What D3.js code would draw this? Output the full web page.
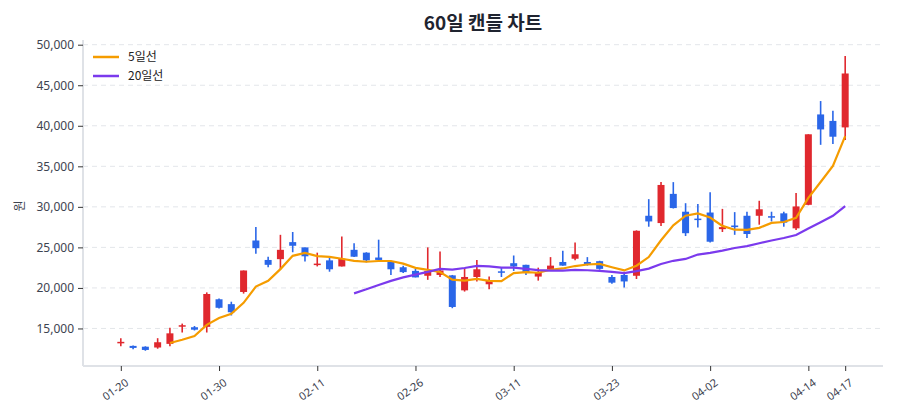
<!DOCTYPE html>
<html><head><meta charset="utf-8">
<script src="https://cdn.jsdelivr.net/npm/d3@7/dist/d3.min.js"></script>
<style>
body{margin:0;background:#fff;}
svg{font-family:"Noto Sans CJK KR","Noto Sans",sans-serif;}
</style></head><body>
<svg id="c" width="900" height="420"></svg>
<script>
const dates = ["01-20","01-21","01-22","01-23","01-26","01-27","01-28","01-29","01-30",
"02-02","02-03","02-04","02-05","02-06","02-09","02-10","02-11",
"02-12","02-13","02-19","02-20","02-23","02-24","02-25","02-26",
"02-27","03-03","03-04","03-05","03-06","03-09","03-10","03-11",
"03-12","03-13","03-16","03-17","03-18","03-19","03-20","03-23",
"03-24","03-25","03-26","03-27","03-30","03-31","04-01","04-02",
"04-03","04-06","04-07","04-08","04-09","04-10","04-13","04-14",
"04-15","04-16","04-17"];
const opens  = [13250,12850,12750,12650,13100,15250,15150,15200,18600,18000,19500,25850,23450,23550,25650,25000,22900,23400,22650,24700,24350,23750,23200,22550,22100,21500,21600,21550,19700,21350,20450,22050,23050,22850,21400,22300,23200,23600,23200,23300,21350,21600,21500,28900,28000,31600,29400,28550,29300,27250,27700,28900,28900,28850,29200,27350,30250,41400,40600,39800];
const highs  = [13800,12900,12800,13800,15100,15600,15300,19450,18700,18300,22150,27500,23850,26550,26900,25000,24350,23700,26350,25500,24400,25950,23200,22750,22350,25000,24500,21600,22450,23450,21400,22450,24000,22850,22500,23800,24600,25600,23800,23350,21600,22000,27100,30950,33050,33050,30450,30350,31800,29750,29350,29400,30750,29400,29400,31700,38950,43050,41850,48600];
const lows   = [12800,12450,12250,12500,12800,14500,14750,14500,17450,16600,19300,24200,22550,22300,24400,23250,22650,22000,22650,23800,23150,23450,21600,21850,21300,21000,21350,17500,19550,20800,19850,21350,22100,21600,20900,22300,22750,23400,22750,22250,20500,20050,21100,27550,27650,29800,26400,27450,25600,26900,26550,26150,27800,28200,27550,27150,30200,37650,37750,38250];
const closes = [13350,12600,12350,13300,14400,15400,14850,19250,17550,17000,22150,24900,22850,24700,25200,23900,23000,22300,23600,23850,23400,23450,22300,21950,21300,22100,22150,17650,21350,22300,20900,21950,22650,21900,21950,22750,22750,24150,22850,22350,20650,20800,27050,28200,32700,29850,26750,28450,25700,27500,27500,26650,29700,28750,28050,30050,38950,39550,38650,46450];
const tickIdx = [0,8,16,24,32,40,48,56,59];
const yTicks = [15000,20000,25000,30000,35000,40000,45000,50000];
const series = [{name:"5일선", n:5, color:"#f59c00"},{name:"20일선", n:20, color:"#7b3aed"}];
const upColor = "#e0282e", downColor = "#2a66e8";

const svg = d3.select("#c");
const L=83, R=883, T=40, B=366;
const x = d3.scaleLinear().domain([-3.08, 62.08]).range([L, R]);
const y = d3.scaleLinear().domain([10370, 50580]).range([B, T]);

// grid
svg.append("g").selectAll("line").data(yTicks).join("line")
  .attr("x1",L).attr("x2",R).attr("y1",d=>y(d)).attr("y2",d=>y(d))
  .attr("stroke","#e3e6ea").attr("stroke-dasharray","5,4").attr("stroke-width",1);

// axes
const yAxis = svg.append("g").attr("transform",`translate(${L},0)`)
  .call(d3.axisLeft(y).tickValues(yTicks).tickFormat(d3.format(",")).tickSize(5).tickPadding(4));
yAxis.select(".domain").attr("stroke","#dfe2e7").attr("stroke-width",2).attr("d",`M0,${T}V${B}`);
yAxis.selectAll(".tick line").attr("stroke","#333");
yAxis.selectAll("text").attr("fill","#3d4350").attr("font-size",12).attr("font-family","Noto Sans, sans-serif");

const xAxis = svg.append("g").attr("transform",`translate(0,${B})`)
  .call(d3.axisBottom(x).tickValues(tickIdx).tickFormat(i=>dates[i]).tickSize(5).tickPadding(6));
xAxis.select(".domain").attr("stroke","#dfe2e7").attr("stroke-width",2).attr("d",`M${L},0H${R}`);
xAxis.selectAll(".tick line").attr("stroke","#333");
xAxis.selectAll("text").attr("fill","#3d4350").attr("font-size",11).attr("font-family","Noto Sans, sans-serif")
  .attr("text-anchor","end").attr("transform","translate(-2,4) rotate(-35)").attr("dy","0.6em");

// candles
const idx = d3.range(dates.length);
const g = svg.append("g");
g.selectAll("line.w").data(idx).join("line")
  .attr("x1",i=>x(i)).attr("x2",i=>x(i)).attr("y1",i=>y(highs[i])).attr("y2",i=>y(lows[i]))
  .attr("stroke",i=>closes[i]>=opens[i]?upColor:downColor).attr("stroke-width",1.6);
g.selectAll("rect").data(idx).join("rect")
  .attr("x",i=>x(i)-3.5).attr("width",7)
  .attr("y",i=>y(Math.max(opens[i],closes[i])))
  .attr("height",i=>Math.max(1.5, Math.abs(y(opens[i])-y(closes[i]))))
  .attr("fill",i=>closes[i]>=opens[i]?upColor:downColor);

// moving averages
series.forEach(s=>{
  const pts = idx.filter(i=>i>=s.n-1).map(i=>[i, d3.mean(closes.slice(i-s.n+1,i+1))]);
  svg.append("path").datum(pts)
    .attr("d", d3.line().x(d=>x(d[0])).y(d=>y(d[1])))
    .attr("fill","none").attr("stroke",s.color).attr("stroke-width",2.2);
});

// legend
series.forEach((s,k)=>{
  const ly = 57 + k*19;
  svg.append("line").attr("x1",93).attr("x2",119).attr("y1",ly).attr("y2",ly)
    .attr("stroke",s.color).attr("stroke-width",2.5);
  svg.append("text").attr("x",128).attr("y",ly).attr("dy","0.35em")
    .attr("font-size",12).attr("fill","#222").text(s.name);
});

// title
svg.append("text").attr("x",483).attr("y",23).attr("text-anchor","middle").attr("dy","0.35em")
  .attr("font-size",19).attr("font-weight","bold").attr("fill","#1f2430").text("60일 캔들 차트");
// y label
svg.append("text").attr("transform","translate(20,206) rotate(-90)").attr("text-anchor","middle")
  .attr("dy","0.35em").attr("font-size",12).attr("fill","#3d4350").text("원");
</script></body></html>
